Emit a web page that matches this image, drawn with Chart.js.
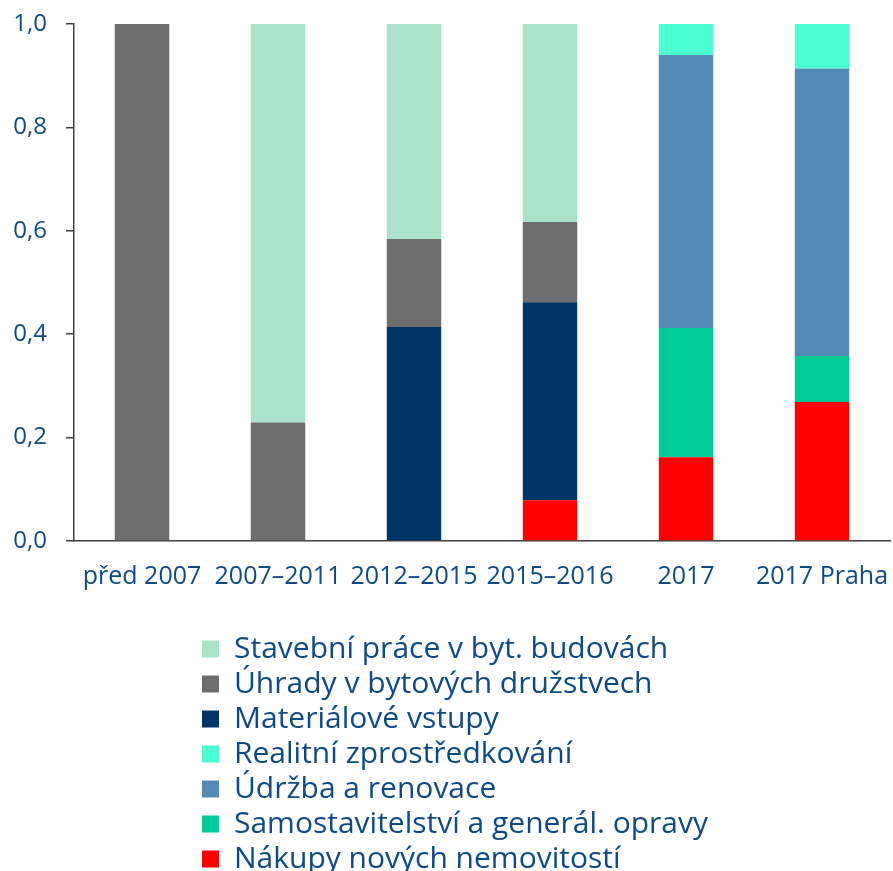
<!DOCTYPE html>
<html>
<head>
<meta charset="utf-8">
<script src="https://cdn.jsdelivr.net/npm/chart.js@4"></script>
<style>
  html, body { margin: 0; padding: 0; background: #ffffff; }
  #wrap { width: 893px; height: 871px; position: relative; }
</style>
</head>
<body>
<div id="wrap"><canvas id="c"></canvas></div>
<script>
const categories = ['před 2007', '2007–2011', '2012–2015', '2015–2016', '2017', '2017 Praha'];

// series listed bottom-to-top in the stack
const nakupy           = [0, 0, 0, 0.079, 0.162, 0.269];
const samostavitelstvi = [0, 0, 0, 0, 0.250, 0.089];
const udrzba           = [0, 0, 0, 0, 0.528, 0.556];
const realitni         = [0, 0, 0, 0, 0.060, 0.086];
const materialove      = [0, 0, 0.414, 0.383, 0, 0];
const uhrady           = [1.0, 0.229, 0.170, 0.155, 0, 0];
const stavebni         = [0, 0.771, 0.416, 0.383, 0, 0];

const seriesNames = [
  'Nákupy nových nemovitostí',
  'Samostavitelství a generál. opravy',
  'Údržba a renovace',
  'Realitní zprostředkování',
  'Materiálové vstupy',
  'Úhrady v bytových družstvech',
  'Stavební práce v byt. budovách'
];
const seriesValues = [nakupy, samostavitelstvi, udrzba, realitni, materialove, uhrady, stavebni];
const seriesColors = ['#FF0000', '#00CC99', '#548BB6', '#4BFFD3', '#003366', '#6E6E6E', '#ABE3CA'];

const yTickValues = [0, 0.2, 0.4, 0.6, 0.8, 1.0];

const textColor = '#0E4A86';
const axisColor = '#404040';

const LEGEND_WIDTH = 540;
const LEGEND_LEFT = 197;
const LEGEND_TOP = 629;

// one legend entry per row, left-aligned block below the plot
const legendBlock = {
  id: 'legendBlock',
  beforeLayout(chart) {
    const lg = chart.legend;
    if (lg && !lg._narrowed) {
      const orig = lg.update.bind(lg);
      lg.update = (mw, mh, m) => orig(Math.min(mw, LEGEND_WIDTH), mh, m);
      lg._narrowed = true;
    }
  },
  afterLayout(chart) {
    const lg = chart.legend;
    if (!lg) return;
    const h = lg.bottom - lg.top;
    lg.left = LEGEND_LEFT;
    lg.right = LEGEND_LEFT + LEGEND_WIDTH;
    lg.top = LEGEND_TOP;
    lg.bottom = LEGEND_TOP + h;
  }
};

new Chart(document.getElementById('c'), {
  type: 'bar',
  data: {
    labels: categories,
    datasets: seriesNames.map((name, i) => ({
      label: name,
      data: seriesValues[i],
      backgroundColor: seriesColors[i],
      borderWidth: 0,
      barPercentage: 0.4,
      categoryPercentage: 1.0
    }))
  },
  options: {
    responsive: true,
    maintainAspectRatio: false,
    animation: false,
    layout: { padding: { left: 4, right: 3, top: 24, bottom: 24 } },
    scales: {
      x: {
        stacked: true,
        grid: { display: false, drawTicks: true, tickLength: 21 },
        border: { display: true, color: axisColor, width: 1.5 },
        afterFit(s) { s.paddingLeft = 0; s.paddingRight = 0; },
        ticks: {
          color: textColor,
          font: { family: 'Open Sans', size: 25 },
          padding: 0,
          maxRotation: 0,
          autoSkip: false
        }
      },
      y: {
        stacked: true,
        min: 0,
        max: 1,
        afterBuildTicks(axis) { axis.ticks = yTickValues.map(v => ({ value: v })); },
        afterFit(s) { s.width = 70; s.paddingTop = 0; s.paddingBottom = 0; },
        grid: { drawOnChartArea: false, drawTicks: true, tickLength: 8, color: axisColor, lineWidth: 1.5 },
        border: { display: true, color: axisColor, width: 1.5 },
        ticks: {
          color: textColor,
          font: { family: 'Open Sans', size: 24 },
          padding: 19,
          callback: v => v.toFixed(1).replace('.', ',')
        }
      }
    },
    plugins: {
      tooltip: { enabled: false },
      legend: {
        position: 'bottom',
        align: 'start',
        reverse: true,
        labels: {
          color: textColor,
          font: { family: 'Open Sans', size: 30 },
          boxWidth: 17,
          boxHeight: 17,
          padding: 5
        }
      }
    }
  },
  plugins: [legendBlock]
});
</script>
</body>
</html>
